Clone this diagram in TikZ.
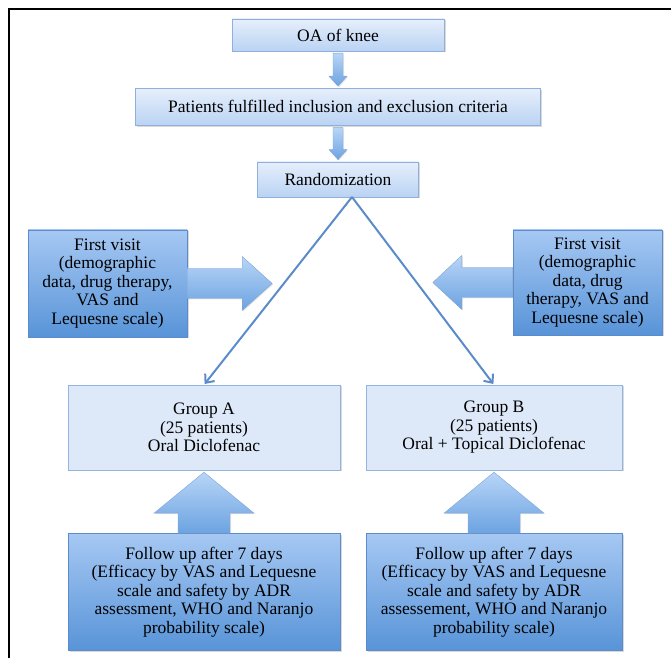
\documentclass[tikz,border=0pt]{standalone}
\usepackage{fontspec}
\setmainfont{Liberation Serif}
\usetikzlibrary{arrows.meta,positioning,shadows,calc}

\definecolor{boxtop}{HTML}{E6EFFC}
\definecolor{boxbot}{HTML}{BAD3F3}
\definecolor{boxline}{HTML}{8FB0DC}
\definecolor{grpfill}{HTML}{DDE8F8}
\definecolor{grpline}{HTML}{93B4E0}
\definecolor{infotop}{HTML}{A6C8F3}
\definecolor{infobot}{HTML}{5894D8}
\definecolor{infoline}{HTML}{5C8BCB}
\definecolor{arrtop}{HTML}{B8D5F7}
\definecolor{arrbot}{HTML}{6CA3E1}
\definecolor{arrline}{HTML}{7FA6D6}
\definecolor{linkblue}{HTML}{5B8CC9}

\tikzset{
  basic/.style  = {draw, align=center, inner sep=2pt, rectangle,
                   font=\fontsize{17.5}{18.5}\selectfont,
                   drop shadow={opacity=0.3, shadow xshift=1.5pt, shadow yshift=-1.5pt}},
  stage/.style  = {basic, draw=boxline, top color=boxtop, bottom color=boxbot,
                   minimum height=32pt},
  group/.style  = {basic, draw=grpline, fill=grpfill, minimum width=272pt,
                   minimum height=85pt},
  info/.style   = {basic, draw=infoline, top color=infotop, bottom color=infobot},
  block/.style  = {draw=arrline, line width=0.4pt, top color=arrtop, bottom color=arrbot,
                   drop shadow={opacity=0.2, shadow xshift=1pt, shadow yshift=-1pt}},
  link/.style   = {draw=linkblue, line width=2pt, shorten >=1pt,
                   -{Straight Barb[length=7pt,width=12pt]}}
}

\begin{document}
\begin{tikzpicture}[x=1pt, y=1pt]
\useasboundingbox (0,0) rectangle (671,658);

% frame round the figure
\draw[line width=2pt] (9,0) -- (9,649) -- (671,649);

% main column
\node[stage, minimum width=212pt] (oa) at (338,623) {OA of knee};
\node[stage, minimum width=405pt, minimum height=37pt, below=37pt of oa] (pat)
  {Patients fulfilled inclusion and exclusion criteria};
\node[stage, minimum width=161pt, minimum height=35pt, below=36pt of pat] (rand)
  {Randomization};

% first visit, both sides
\node[info, minimum width=159pt, minimum height=107pt] (fvA) at (107.5,374.5)
  {First visit\\(demographic\\data, drug therapy,\\VAS and\\Lequesne scale)};
\node[info, minimum width=149pt, minimum height=105pt] (fvB) at (587.5,375.5)
  {First visit\\(demographic\\data, drug\\therapy, VAS and\\Lequesne scale)};

% the two groups
\node[group] (grpA) at (204,230.5) {Group A\\(25 patients)\\Oral Diclofenac};
\node[group, minimum width=256pt] (grpB) at (494,230.5)
  {Group B\\(25 patients)\\Oral + Topical Diclofenac};

% follow up
\node[info, minimum width=272pt, minimum height=117pt, below=63pt of grpA] (fuA)
  {Follow up after 7 days\\(Efficacy by VAS and Lequesne\\scale and safety by ADR\\assessment, WHO and Naranjo\\probability scale)};
\node[info, minimum width=256pt, minimum height=117pt, below=63pt of grpB] (fuB)
  {Follow up after 7 days\\(Efficacy by VAS and Lequesne\\scale and safety by ADR\\assessement, WHO and Naranjo\\probability scale)};

% small block arrows down the column
\foreach \a/\b in {oa/pat, pat/rand}
  \path[block] ($(\a.south)+(-5,-2)$) -- ($(\b.north)+(-5,12)$) -- ($(\b.north)+(-9,12)$)
    -- ($(\b.north)+(0,2)$) -- ($(\b.north)+(9,12)$) -- ($(\b.north)+(5,12)$)
    -- ($(\a.south)+(5,-2)$) -- cycle;

% randomization into the two groups
\coordinate (apex) at ($(rand.south)+(14,0)$);
\draw[link] (apex) -- (grpA.north);
\draw[link] (apex) -- (grpB.north);

% first visit arrows
\path[block] ($(fvA.east)+(0,15)$) -- ++(55,0) -- ++(0,12) -- ($(fvA.east)+(85,0)$)
  -- ++(-30,-27) -- ++(0,12) -- ($(fvA.east)+(0,-15)$) -- cycle;
\path[block] ($(fvB.west)+(0,15)$) -- ++(-51,0) -- ++(0,12) -- ($(fvB.west)+(-80,0)$)
  -- ++(29,-27) -- ++(0,12) -- ($(fvB.west)+(0,-15)$) -- cycle;

% follow up arrows
\foreach \g in {A,B}
  \path[block] ($(fu\g.north)+(-26,0)$) -- ($(grp\g.south)+(-26,-43)$) -- ($(grp\g.south)+(-50,-43)$)
    -- ($(grp\g.south)+(0,-2)$) -- ($(grp\g.south)+(50,-43)$) -- ($(grp\g.south)+(26,-43)$)
    -- ($(fu\g.north)+(26,0)$) -- cycle;
\end{tikzpicture}
\end{document}
